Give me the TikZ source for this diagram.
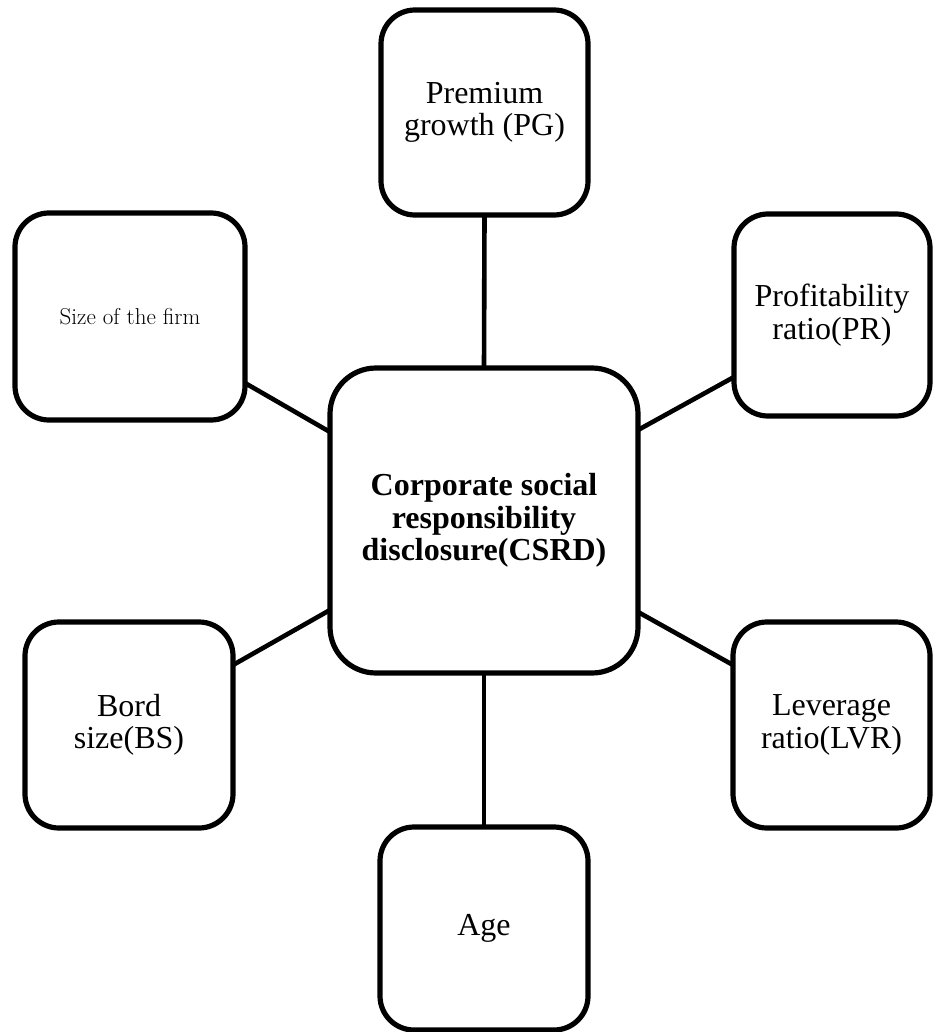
\documentclass[tikz,border=0pt]{standalone}
\usepackage{fontspec}
\newfontfamily\timesfont{Liberation Serif}
\begin{document}
\begin{tikzpicture}[x=1pt,y=-1pt,
  boxstyle/.style={draw=black, line width=5.2pt, rounded corners=34pt, fill=white,
    inner sep=0pt, outer sep=0pt, align=center,
    font=\timesfont\fontsize{32}{32.5}\selectfont},
  link/.style={draw=black, line width=4.6pt}]
\useasboundingbox (0,0) rectangle (933,1032);
\fill[white] (0,0) rectangle (933,1032);

\node[boxstyle, minimum width=207pt, minimum height=205pt] (pg) at (484.5,112.5) {Premium\\growth (PG)};
\node[boxstyle, minimum width=230pt, minimum height=207pt, font=\fontsize{23}{26}\selectfont] (sz) at (130,316.5) {Size of the firm};
\node[boxstyle, minimum width=196pt, minimum height=202pt] (pr) at (832,315) {Profitability\\ratio(PR)};
\node[boxstyle, minimum width=308pt, minimum height=305pt, rounded corners=46pt,
  font=\timesfont\bfseries\fontsize{32}{32.5}\selectfont] (c) at (484,520.5) {Corporate social\\responsibility\\disclosure(CSRD)};
\node[boxstyle, minimum width=208pt, minimum height=206pt] (bs) at (129,725) {Bord\\size(BS)};
\node[boxstyle, minimum width=197pt, minimum height=206pt] (lv) at (831.5,725) {Leverage\\ratio(LVR)};
\node[boxstyle, minimum width=208pt, minimum height=203pt] (ag) at (484,928.5) {Age};

\draw[link] (pg.south) -- (c.north);
\draw[link] (c.south) -- (ag.north);
\draw[link] ([yshift=-66.5pt]sz.east) -- ([yshift=88.5pt]c.west);
\draw[link] ([yshift=-62pt]pr.west) -- ([yshift=90.5pt]c.east);
\draw[link] ([yshift=60pt]bs.east) -- ([yshift=-89.5pt]c.west);
\draw[link] ([yshift=60pt]lv.west) -- ([yshift=-91.5pt]c.east);
\end{tikzpicture}
\end{document}
